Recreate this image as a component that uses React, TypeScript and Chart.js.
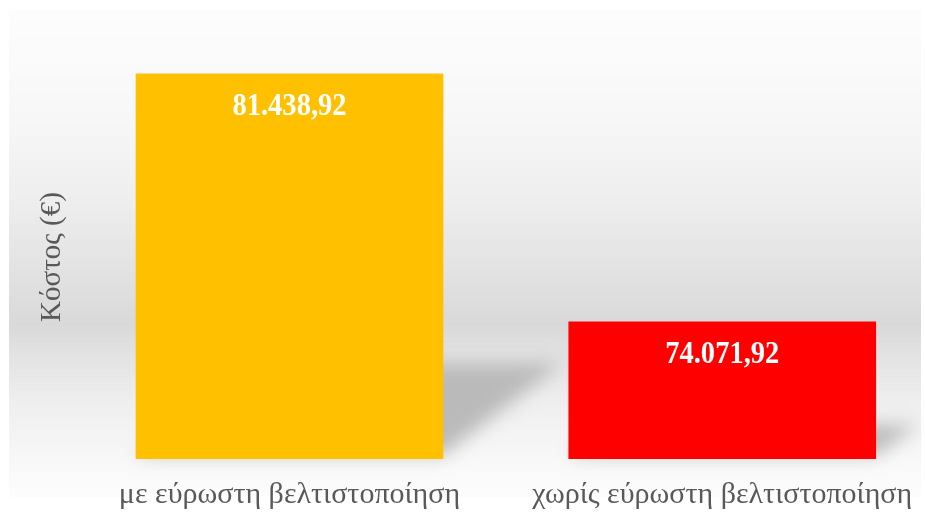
import React, { useEffect, useRef } from "react";
import { Chart, registerables } from "chart.js";

Chart.register(...registerables);

const categories = ["με εύρωστη βελτιστοποίηση", "χωρίς εύρωστη βελτιστοποίηση"];
const costValues = [81438.92, 74071.92];
const barColors = ["#FFC000", "#FF0000"];
const yAxisTitle = "Κόστος (€)";
const yMin = 70000;
const yMax = 82000;

function formatGreek(v: number): string {
  const fixed = v.toFixed(2);
  const [intPart, dec] = fixed.split(".");
  const withDots = intPart.replace(/\B(?=(\d{3})+(?!\d))/g, ".");
  return withDots + "," + dec;
}

function drawShadows(chart: any) {
  const { ctx } = chart;
  const meta = chart.getDatasetMeta(0);
  const bottom = chart.chartArea.bottom;
  ctx.save();
  ctx.filter = "blur(9px)";
  ctx.fillStyle = "#bababa";
  meta.data.forEach((bar: any) => {
    const left = bar.x - bar.width / 2;
    const right = bar.x + bar.width / 2;
    const hh = bottom - bar.y;
    const dx = 0.31 * hh;
    const dy = 0.25 * hh;
    ctx.beginPath();
    ctx.moveTo(left, bottom - 4);
    ctx.lineTo(right, bottom - 4);
    ctx.lineTo(right + dx, bottom - dy);
    ctx.lineTo(left + dx, bottom - dy);
    ctx.closePath();
    ctx.fill();
  });
  ctx.restore();
}

const backgroundPlugin = {
  id: "panelBackground",
  beforeDatasetsDraw(chart: any) {
    const { ctx } = chart;
    const x0 = 9, y0 = 9, x1 = 921, y1 = 497;
    const h = y1 - y0;
    const g = ctx.createLinearGradient(0, y0, 0, y1);
    const stop = (y: number, c: string) => g.addColorStop(Math.min(1, Math.max(0, (y - y0) / h)), c);
    stop(9, "#fdfdfd");
    stop(120, "#f7f7f7");
    stop(200, "#eeeeee");
    stop(325, "#d9d9d9");
    stop(350, "#e1e1e1");
    stop(400, "#eeeeee");
    stop(460, "#f8f8f8");
    stop(497, "#fdfdfd");
    ctx.save();
    ctx.globalCompositeOperation = "destination-over";
    ctx.fillStyle = g;
    ctx.fillRect(x0, y0, x1 - x0, y1 - y0);
    ctx.fillStyle = "#ffffff";
    ctx.fillRect(0, 0, chart.width, chart.height);
    ctx.restore();
    drawShadows(chart);
  },
};

const valueLabelPlugin = {
  id: "valueLabels",
  afterDatasetsDraw(chart: any) {
    const { ctx } = chart;
    const meta = chart.getDatasetMeta(0);
    ctx.save();
    ctx.font = 'bold 31px "Liberation Serif", "Times New Roman", serif';
    ctx.fillStyle = "#ffffff";
    ctx.textAlign = "center";
    ctx.textBaseline = "alphabetic";
    meta.data.forEach((bar: any, i: number) => {
      ctx.save();
      ctx.translate(bar.x, bar.y + 41);
      ctx.scale(0.92, 1);
      ctx.fillText(formatGreek(costValues[i]), 0, 0);
      ctx.restore();
    });
    ctx.restore();
  },
};

export default function App() {
  const ref = useRef<HTMLCanvasElement | null>(null);

  useEffect(() => {
    if (!ref.current) return;
    const chart = new Chart(ref.current, {
      type: "bar",
      data: {
        datasets: [
          {
            data: costValues.map((v, i) => ({ x: i, y: v })),
            backgroundColor: barColors,
            borderWidth: 0,
            barThickness: 307,
          } as any,
        ],
      },
      options: {
        animation: false,
        responsive: false,
        layout: { padding: { left: 31, right: 0, top: 55, bottom: 0 } },
        plugins: { legend: { display: false }, tooltip: { enabled: false } },
        scales: {
          x: {
            type: "linear",
            min: -0.5026,
            max: 1.4685,
            offset: false,
            bounds: "data",
            grid: { display: false, offset: false },
            border: { display: false },
            afterBuildTicks: (scale: any) => {
              scale.ticks = categories.map((_, i) => ({ value: i }));
            },
            afterFit: (scale: any) => {
              scale.height = 514 - 459;
            },
            ticks: {
              padding: 10,
              autoSkip: false,
              maxRotation: 0,
              color: "#595959",
              font: { family: '"Liberation Serif", "Times New Roman", serif', size: 30 },
              callback: (v: any) => categories[v as number] ?? "",
            },
          } as any,
          y: {
            min: yMin,
            max: yMax,
            grid: { display: false },
            border: { display: false },
            ticks: { display: false },
            afterFit: (scale: any) => {
              scale.width = 41;
            },
            title: {
              display: true,
              text: yAxisTitle,
              color: "#595959",
              font: { family: '"Liberation Serif", "Times New Roman", serif', size: 29 },
            },
          },
        },
      },
      plugins: [backgroundPlugin, valueLabelPlugin],
    });
    return () => chart.destroy();
  }, []);

  return (
    <div style={{ position: "fixed", left: 0, top: 0, width: 925, height: 514 }}>
      <canvas ref={ref} width={925} height={514} style={{ display: "block" }} />
    </div>
  );
}
